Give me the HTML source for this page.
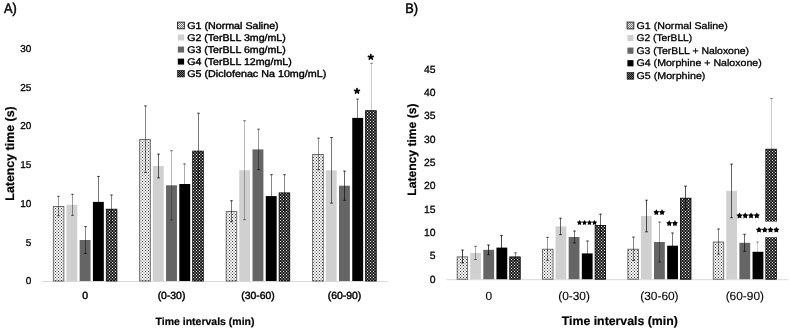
<!DOCTYPE html>
<html><head><meta charset="utf-8"><style>
html,body{margin:0;padding:0;background:#fff;}
svg{display:block;will-change:transform;}
text{font-family:"Liberation Sans", sans-serif;fill:#000;text-rendering:geometricPrecision;}
</style></head><body>
<svg width="789" height="329" viewBox="0 0 789 329">
<defs>
<pattern id="pg1" patternUnits="userSpaceOnUse" width="3" height="3"><rect x="0" y="0" width="1" height="1" fill="#cdcdcd"/><rect x="1" y="0" width="1" height="1" fill="#fafafa"/><rect x="2" y="0" width="1" height="1" fill="#cdcdcd"/><rect x="0" y="1" width="1" height="1" fill="#fafafa"/><rect x="1" y="1" width="1" height="1" fill="#3c3c3c"/><rect x="2" y="1" width="1" height="1" fill="#fafafa"/><rect x="0" y="2" width="1" height="1" fill="#cdcdcd"/><rect x="1" y="2" width="1" height="1" fill="#fafafa"/><rect x="2" y="2" width="1" height="1" fill="#cdcdcd"/></pattern>
<pattern id="pg5" patternUnits="userSpaceOnUse" width="3" height="3"><rect x="0" y="0" width="1" height="1" fill="#555555"/><rect x="1" y="0" width="1" height="1" fill="#191919"/><rect x="2" y="0" width="1" height="1" fill="#555555"/><rect x="0" y="1" width="1" height="1" fill="#191919"/><rect x="1" y="1" width="1" height="1" fill="#ebebeb"/><rect x="2" y="1" width="1" height="1" fill="#191919"/><rect x="0" y="2" width="1" height="1" fill="#555555"/><rect x="1" y="2" width="1" height="1" fill="#191919"/><rect x="2" y="2" width="1" height="1" fill="#555555"/></pattern>
<pattern id="pg1s" patternUnits="userSpaceOnUse" width="2" height="2"><rect x="0" y="0" width="1" height="1" fill="#e6e6e6"/><rect x="1" y="0" width="1" height="1" fill="#787878"/><rect x="0" y="1" width="1" height="1" fill="#787878"/><rect x="1" y="1" width="1" height="1" fill="#e6e6e6"/></pattern>
<pattern id="pg5s" patternUnits="userSpaceOnUse" width="2" height="2"><rect x="0" y="0" width="1" height="1" fill="#0f0f0f"/><rect x="1" y="0" width="1" height="1" fill="#6e6e6e"/><rect x="0" y="1" width="1" height="1" fill="#6e6e6e"/><rect x="1" y="1" width="1" height="1" fill="#0f0f0f"/></pattern>
</defs>
<rect width="789" height="329" fill="#fff"/>
<rect x="42" y="281.0" width="346" height="1" fill="#d9d9d9"/>
<rect x="53.30" y="206.40" width="10.60" height="74.60" fill="url(#pg1)" stroke="#505050" stroke-width="0.8"/>
<rect x="66.40" y="204.80" width="10.90" height="76.20" fill="#d0d0d0"/>
<rect x="79.65" y="240.00" width="10.90" height="41.00" fill="#656565"/>
<rect x="92.90" y="201.90" width="10.90" height="79.10" fill="#000000"/>
<rect x="106.30" y="209.20" width="10.60" height="71.80" fill="url(#pg5)" stroke="#000" stroke-width="0.8"/>
<rect x="139.70" y="139.60" width="10.60" height="141.40" fill="url(#pg1)" stroke="#505050" stroke-width="0.8"/>
<rect x="152.80" y="166.00" width="10.90" height="115.00" fill="#d0d0d0"/>
<rect x="166.05" y="185.30" width="10.90" height="95.70" fill="#656565"/>
<rect x="179.30" y="184.00" width="10.90" height="97.00" fill="#000000"/>
<rect x="192.70" y="151.10" width="10.60" height="129.90" fill="url(#pg5)" stroke="#000" stroke-width="0.8"/>
<rect x="226.15" y="211.60" width="10.60" height="69.40" fill="url(#pg1)" stroke="#505050" stroke-width="0.8"/>
<rect x="239.25" y="170.20" width="10.90" height="110.80" fill="#d0d0d0"/>
<rect x="252.50" y="149.40" width="10.90" height="131.60" fill="#656565"/>
<rect x="265.75" y="196.10" width="10.90" height="84.90" fill="#000000"/>
<rect x="279.15" y="192.90" width="10.60" height="88.10" fill="url(#pg5)" stroke="#000" stroke-width="0.8"/>
<rect x="312.65" y="154.40" width="10.60" height="126.60" fill="url(#pg1)" stroke="#505050" stroke-width="0.8"/>
<rect x="325.75" y="170.30" width="10.90" height="110.70" fill="#d0d0d0"/>
<rect x="339.00" y="185.70" width="10.90" height="95.30" fill="#656565"/>
<rect x="352.25" y="117.90" width="10.90" height="163.10" fill="#000000"/>
<rect x="365.65" y="110.70" width="10.60" height="170.30" fill="url(#pg5)" stroke="#000" stroke-width="0.8"/>
<line x1="58.50" y1="196.30" x2="58.50" y2="215.70" stroke="#000" stroke-opacity="0.4" stroke-width="1"/>
<rect x="57.25" y="195.80" width="2.5" height="1" fill="#000" fill-opacity="0.70"/>
<rect x="57.25" y="215.20" width="2.5" height="1" fill="#000" fill-opacity="0.70"/>
<line x1="72.50" y1="194.30" x2="72.50" y2="215.30" stroke="#000" stroke-opacity="0.4" stroke-width="1"/>
<rect x="71.25" y="193.80" width="2.5" height="1" fill="#000" fill-opacity="0.70"/>
<rect x="71.25" y="214.80" width="2.5" height="1" fill="#000" fill-opacity="0.70"/>
<line x1="85.50" y1="226.60" x2="85.50" y2="253.40" stroke="#000" stroke-opacity="0.47" stroke-width="1"/>
<rect x="84.25" y="226.10" width="2.5" height="1" fill="#000" fill-opacity="0.77"/>
<rect x="84.25" y="252.90" width="2.5" height="1" fill="#000" fill-opacity="0.77"/>
<line x1="98.50" y1="176.40" x2="98.50" y2="227.40" stroke="#000" stroke-opacity="0.53" stroke-width="1"/>
<rect x="97.25" y="175.90" width="2.5" height="1" fill="#000" fill-opacity="0.80"/>
<rect x="97.25" y="226.90" width="2.5" height="1" fill="#000" fill-opacity="0.80"/>
<line x1="111.50" y1="195.00" x2="111.50" y2="222.60" stroke="#000" stroke-opacity="0.47" stroke-width="1"/>
<rect x="110.25" y="194.50" width="2.5" height="1" fill="#000" fill-opacity="0.77"/>
<rect x="110.25" y="222.10" width="2.5" height="1" fill="#000" fill-opacity="0.77"/>
<line x1="145.50" y1="105.90" x2="145.50" y2="172.50" stroke="#000" stroke-opacity="0.47" stroke-width="1"/>
<rect x="144.25" y="105.40" width="2.5" height="1" fill="#000" fill-opacity="0.77"/>
<rect x="144.25" y="172.00" width="2.5" height="1" fill="#000" fill-opacity="0.77"/>
<line x1="158.50" y1="154.10" x2="158.50" y2="177.90" stroke="#000" stroke-opacity="0.6" stroke-width="1"/>
<rect x="157.25" y="153.60" width="2.5" height="1" fill="#000" fill-opacity="0.80"/>
<rect x="157.25" y="177.40" width="2.5" height="1" fill="#000" fill-opacity="0.80"/>
<line x1="171.50" y1="150.70" x2="171.50" y2="219.90" stroke="#000" stroke-opacity="0.27" stroke-width="1"/>
<rect x="170.25" y="150.20" width="2.5" height="1" fill="#000" fill-opacity="0.57"/>
<rect x="170.25" y="219.40" width="2.5" height="1" fill="#000" fill-opacity="0.57"/>
<line x1="184.50" y1="163.90" x2="184.50" y2="204.10" stroke="#000" stroke-opacity="0.33" stroke-width="1"/>
<rect x="183.25" y="163.40" width="2.5" height="1" fill="#000" fill-opacity="0.63"/>
<rect x="183.25" y="203.60" width="2.5" height="1" fill="#000" fill-opacity="0.63"/>
<line x1="198.50" y1="113.20" x2="198.50" y2="188.20" stroke="#000" stroke-opacity="0.53" stroke-width="1"/>
<rect x="197.25" y="112.70" width="2.5" height="1" fill="#000" fill-opacity="0.80"/>
<rect x="197.25" y="187.70" width="2.5" height="1" fill="#000" fill-opacity="0.80"/>
<line x1="231.50" y1="200.70" x2="231.50" y2="221.70" stroke="#000" stroke-opacity="0.53" stroke-width="1"/>
<rect x="230.25" y="200.20" width="2.5" height="1" fill="#000" fill-opacity="0.80"/>
<rect x="230.25" y="221.20" width="2.5" height="1" fill="#000" fill-opacity="0.80"/>
<line x1="244.50" y1="120.70" x2="244.50" y2="219.70" stroke="#000" stroke-opacity="0.27" stroke-width="1"/>
<rect x="243.25" y="120.20" width="2.5" height="1" fill="#000" fill-opacity="0.57"/>
<rect x="243.25" y="219.20" width="2.5" height="1" fill="#000" fill-opacity="0.57"/>
<line x1="258.50" y1="129.20" x2="258.50" y2="169.60" stroke="#000" stroke-opacity="0.4" stroke-width="1"/>
<rect x="257.25" y="128.70" width="2.5" height="1" fill="#000" fill-opacity="0.70"/>
<rect x="257.25" y="169.10" width="2.5" height="1" fill="#000" fill-opacity="0.70"/>
<line x1="271.50" y1="174.70" x2="271.50" y2="217.50" stroke="#000" stroke-opacity="0.47" stroke-width="1"/>
<rect x="270.25" y="174.20" width="2.5" height="1" fill="#000" fill-opacity="0.77"/>
<rect x="270.25" y="217.00" width="2.5" height="1" fill="#000" fill-opacity="0.77"/>
<line x1="284.50" y1="174.70" x2="284.50" y2="210.30" stroke="#000" stroke-opacity="0.47" stroke-width="1"/>
<rect x="283.25" y="174.20" width="2.5" height="1" fill="#000" fill-opacity="0.77"/>
<rect x="283.25" y="209.80" width="2.5" height="1" fill="#000" fill-opacity="0.77"/>
<line x1="318.50" y1="138.20" x2="318.50" y2="169.80" stroke="#000" stroke-opacity="0.4" stroke-width="1"/>
<rect x="317.25" y="137.70" width="2.5" height="1" fill="#000" fill-opacity="0.70"/>
<rect x="317.25" y="169.30" width="2.5" height="1" fill="#000" fill-opacity="0.70"/>
<line x1="331.50" y1="137.50" x2="331.50" y2="203.10" stroke="#000" stroke-opacity="0.53" stroke-width="1"/>
<rect x="330.25" y="137.00" width="2.5" height="1" fill="#000" fill-opacity="0.80"/>
<rect x="330.25" y="202.60" width="2.5" height="1" fill="#000" fill-opacity="0.80"/>
<line x1="344.50" y1="171.10" x2="344.50" y2="200.30" stroke="#000" stroke-opacity="0.6" stroke-width="1"/>
<rect x="343.25" y="170.60" width="2.5" height="1" fill="#000" fill-opacity="0.80"/>
<rect x="343.25" y="199.80" width="2.5" height="1" fill="#000" fill-opacity="0.80"/>
<line x1="357.50" y1="99.10" x2="357.50" y2="136.70" stroke="#000" stroke-opacity="0.47" stroke-width="1"/>
<rect x="356.25" y="98.60" width="2.5" height="1" fill="#000" fill-opacity="0.77"/>
<rect x="356.25" y="136.20" width="2.5" height="1" fill="#000" fill-opacity="0.77"/>
<line x1="371.50" y1="63.30" x2="371.50" y2="157.30" stroke="#000" stroke-opacity="0.2" stroke-width="1"/>
<rect x="370.25" y="62.80" width="2.5" height="1" fill="#000" fill-opacity="0.50"/>
<rect x="370.25" y="156.80" width="2.5" height="1" fill="#000" fill-opacity="0.50"/>
<text x="31.4" y="284.20" font-size="10" text-anchor="end" stroke="#000" stroke-width="0.3">0</text>
<text x="31.4" y="245.50" font-size="10" text-anchor="end" stroke="#000" stroke-width="0.3">5</text>
<text x="31.4" y="206.80" font-size="10" text-anchor="end" stroke="#000" stroke-width="0.3">10</text>
<text x="31.4" y="168.10" font-size="10" text-anchor="end" stroke="#000" stroke-width="0.3">15</text>
<text x="31.4" y="129.40" font-size="10" text-anchor="end" stroke="#000" stroke-width="0.3">20</text>
<text x="31.4" y="90.70" font-size="10" text-anchor="end" stroke="#000" stroke-width="0.3">25</text>
<text x="31.4" y="52.00" font-size="10" text-anchor="end" stroke="#000" stroke-width="0.3">30</text>
<text x="85.10" y="299.3" font-size="10.4" text-anchor="middle" stroke="#000" stroke-width="0.45">0</text>
<text x="171.50" y="299.3" font-size="10.4" text-anchor="middle" stroke="#000" stroke-width="0.45">(0-30)</text>
<text x="257.95" y="299.3" font-size="10.4" text-anchor="middle" stroke="#000" stroke-width="0.45">(30-60)</text>
<text x="344.45" y="299.3" font-size="10.4" text-anchor="middle" stroke="#000" stroke-width="0.45">(60-90)</text>
<text x="205" y="324.8" font-size="10.5" font-weight="bold" text-anchor="middle" stroke="#000" stroke-width="0.2">Time intervals (min)</text>
<text transform="translate(14.4,153.5) rotate(-90)" x="0" y="0" font-size="12.4" font-weight="bold" text-anchor="middle" stroke="#000" stroke-width="0.2">Latency time (s)</text>
<text x="4" y="12.8" font-size="14" stroke="#000" stroke-width="0.5" textLength="12.8" lengthAdjust="spacingAndGlyphs">A)</text>
<rect x="177.50" y="22.15" width="6.90" height="6.60" fill="url(#pg1s)" stroke="#333" stroke-width="1"/>
<text x="187.2" y="28.70" font-size="9.8" stroke="#000" stroke-width="0.4" textLength="91.5" lengthAdjust="spacingAndGlyphs">G1 (Normal Saline)</text>
<rect x="177.80" y="34.50" width="6.30" height="6.00" fill="#d0d0d0"/>
<text x="187.2" y="40.75" font-size="9.8" stroke="#000" stroke-width="0.4" textLength="98.6" lengthAdjust="spacingAndGlyphs">G2 (TerBLL 3mg/mL)</text>
<rect x="177.80" y="46.55" width="6.30" height="6.00" fill="#656565"/>
<text x="187.2" y="52.80" font-size="9.8" stroke="#000" stroke-width="0.4" textLength="98.6" lengthAdjust="spacingAndGlyphs">G3 (TerBLL 6mg/mL)</text>
<rect x="177.80" y="58.60" width="6.30" height="6.00" fill="#000000"/>
<text x="187.2" y="64.85" font-size="9.8" stroke="#000" stroke-width="0.4" textLength="104.5" lengthAdjust="spacingAndGlyphs">G4 (TerBLL 12mg/mL)</text>
<rect x="177.50" y="70.35" width="6.90" height="6.60" fill="url(#pg5s)" stroke="#111" stroke-width="0.6"/>
<text x="187.2" y="76.90" font-size="9.8" stroke="#000" stroke-width="0.4" textLength="139.1" lengthAdjust="spacingAndGlyphs">G5 (Diclofenac Na 10mg/mL)</text>
<rect x="446" y="279.2" width="342" height="1" fill="#d9d9d9"/>
<rect x="457.15" y="256.90" width="10.50" height="22.30" fill="url(#pg1)" stroke="#505050" stroke-width="0.8"/>
<rect x="470.15" y="252.90" width="10.80" height="26.30" fill="#d0d0d0"/>
<rect x="483.30" y="249.80" width="10.80" height="29.40" fill="#656565"/>
<rect x="496.45" y="247.60" width="10.80" height="31.60" fill="#000000"/>
<rect x="509.75" y="256.90" width="10.50" height="22.30" fill="url(#pg5)" stroke="#000" stroke-width="0.8"/>
<rect x="542.52" y="249.20" width="10.50" height="30.00" fill="url(#pg1)" stroke="#505050" stroke-width="0.8"/>
<rect x="555.52" y="226.40" width="10.80" height="52.80" fill="#d0d0d0"/>
<rect x="568.67" y="237.00" width="10.80" height="42.20" fill="#656565"/>
<rect x="581.82" y="253.40" width="10.80" height="25.80" fill="#000000"/>
<rect x="595.12" y="225.50" width="10.50" height="53.70" fill="url(#pg5)" stroke="#000" stroke-width="0.8"/>
<rect x="627.88" y="249.20" width="10.50" height="30.00" fill="url(#pg1)" stroke="#505050" stroke-width="0.8"/>
<rect x="640.88" y="216.00" width="10.80" height="63.20" fill="#d0d0d0"/>
<rect x="654.03" y="242.00" width="10.80" height="37.20" fill="#656565"/>
<rect x="667.18" y="245.70" width="10.80" height="33.50" fill="#000000"/>
<rect x="680.48" y="198.20" width="10.50" height="81.00" fill="url(#pg5)" stroke="#000" stroke-width="0.8"/>
<rect x="713.25" y="242.00" width="10.50" height="37.20" fill="url(#pg1)" stroke="#505050" stroke-width="0.8"/>
<rect x="726.25" y="190.90" width="10.80" height="88.30" fill="#d0d0d0"/>
<rect x="739.40" y="242.80" width="10.80" height="36.40" fill="#656565"/>
<rect x="752.55" y="251.80" width="10.80" height="27.40" fill="#000000"/>
<rect x="765.85" y="149.20" width="10.50" height="130.00" fill="url(#pg5)" stroke="#000" stroke-width="0.8"/>
<line x1="462.50" y1="250.10" x2="462.50" y2="262.90" stroke="#000" stroke-opacity="0.73" stroke-width="1"/>
<rect x="461.25" y="249.60" width="2.5" height="1" fill="#000" fill-opacity="0.80"/>
<rect x="461.25" y="262.40" width="2.5" height="1" fill="#000" fill-opacity="0.80"/>
<line x1="475.50" y1="246.30" x2="475.50" y2="259.50" stroke="#000" stroke-opacity="0.33" stroke-width="1"/>
<rect x="474.25" y="245.80" width="2.5" height="1" fill="#000" fill-opacity="0.63"/>
<rect x="474.25" y="259.00" width="2.5" height="1" fill="#000" fill-opacity="0.63"/>
<line x1="488.50" y1="245.00" x2="488.50" y2="254.60" stroke="#000" stroke-opacity="0.73" stroke-width="1"/>
<rect x="487.25" y="244.50" width="2.5" height="1" fill="#000" fill-opacity="0.80"/>
<rect x="487.25" y="254.10" width="2.5" height="1" fill="#000" fill-opacity="0.80"/>
<line x1="501.50" y1="235.40" x2="501.50" y2="259.80" stroke="#000" stroke-opacity="0.73" stroke-width="1"/>
<rect x="500.25" y="234.90" width="2.5" height="1" fill="#000" fill-opacity="0.80"/>
<rect x="500.25" y="259.30" width="2.5" height="1" fill="#000" fill-opacity="0.80"/>
<line x1="515.50" y1="252.90" x2="515.50" y2="260.10" stroke="#000" stroke-opacity="0.4" stroke-width="1"/>
<rect x="514.25" y="252.40" width="2.5" height="1" fill="#000" fill-opacity="0.70"/>
<rect x="514.25" y="259.60" width="2.5" height="1" fill="#000" fill-opacity="0.70"/>
<line x1="547.50" y1="237.40" x2="547.50" y2="260.20" stroke="#000" stroke-opacity="0.4" stroke-width="1"/>
<rect x="546.25" y="236.90" width="2.5" height="1" fill="#000" fill-opacity="0.70"/>
<rect x="546.25" y="259.70" width="2.5" height="1" fill="#000" fill-opacity="0.70"/>
<line x1="560.50" y1="218.20" x2="560.50" y2="234.60" stroke="#000" stroke-opacity="0.6" stroke-width="1"/>
<rect x="559.25" y="217.70" width="2.5" height="1" fill="#000" fill-opacity="0.80"/>
<rect x="559.25" y="234.10" width="2.5" height="1" fill="#000" fill-opacity="0.80"/>
<line x1="574.50" y1="231.00" x2="574.50" y2="243.00" stroke="#000" stroke-opacity="0.53" stroke-width="1"/>
<rect x="573.25" y="230.50" width="2.5" height="1" fill="#000" fill-opacity="0.80"/>
<rect x="573.25" y="242.50" width="2.5" height="1" fill="#000" fill-opacity="0.80"/>
<line x1="587.50" y1="241.00" x2="587.50" y2="265.80" stroke="#000" stroke-opacity="0.47" stroke-width="1"/>
<rect x="586.25" y="240.50" width="2.5" height="1" fill="#000" fill-opacity="0.77"/>
<rect x="586.25" y="265.30" width="2.5" height="1" fill="#000" fill-opacity="0.77"/>
<line x1="600.50" y1="214.20" x2="600.50" y2="236.00" stroke="#000" stroke-opacity="0.6" stroke-width="1"/>
<rect x="599.25" y="213.70" width="2.5" height="1" fill="#000" fill-opacity="0.80"/>
<rect x="599.25" y="235.50" width="2.5" height="1" fill="#000" fill-opacity="0.80"/>
<line x1="633.50" y1="237.10" x2="633.50" y2="260.50" stroke="#000" stroke-opacity="0.47" stroke-width="1"/>
<rect x="632.25" y="236.60" width="2.5" height="1" fill="#000" fill-opacity="0.77"/>
<rect x="632.25" y="260.00" width="2.5" height="1" fill="#000" fill-opacity="0.77"/>
<line x1="646.50" y1="200.20" x2="646.50" y2="231.80" stroke="#000" stroke-opacity="0.67" stroke-width="1"/>
<rect x="645.25" y="199.70" width="2.5" height="1" fill="#000" fill-opacity="0.80"/>
<rect x="645.25" y="231.30" width="2.5" height="1" fill="#000" fill-opacity="0.80"/>
<line x1="659.50" y1="222.10" x2="659.50" y2="261.90" stroke="#000" stroke-opacity="0.33" stroke-width="1"/>
<rect x="658.25" y="221.60" width="2.5" height="1" fill="#000" fill-opacity="0.63"/>
<rect x="658.25" y="261.40" width="2.5" height="1" fill="#000" fill-opacity="0.63"/>
<line x1="672.50" y1="233.00" x2="672.50" y2="258.40" stroke="#000" stroke-opacity="0.53" stroke-width="1"/>
<rect x="671.25" y="232.50" width="2.5" height="1" fill="#000" fill-opacity="0.80"/>
<rect x="671.25" y="257.90" width="2.5" height="1" fill="#000" fill-opacity="0.80"/>
<line x1="685.50" y1="186.10" x2="685.50" y2="209.50" stroke="#000" stroke-opacity="0.67" stroke-width="1"/>
<rect x="684.25" y="185.60" width="2.5" height="1" fill="#000" fill-opacity="0.80"/>
<rect x="684.25" y="209.00" width="2.5" height="1" fill="#000" fill-opacity="0.80"/>
<line x1="718.50" y1="229.00" x2="718.50" y2="254.20" stroke="#000" stroke-opacity="0.47" stroke-width="1"/>
<rect x="717.25" y="228.50" width="2.5" height="1" fill="#000" fill-opacity="0.77"/>
<rect x="717.25" y="253.70" width="2.5" height="1" fill="#000" fill-opacity="0.77"/>
<line x1="731.50" y1="164.10" x2="731.50" y2="217.70" stroke="#000" stroke-opacity="0.6" stroke-width="1"/>
<rect x="730.25" y="163.60" width="2.5" height="1" fill="#000" fill-opacity="0.80"/>
<rect x="730.25" y="217.20" width="2.5" height="1" fill="#000" fill-opacity="0.80"/>
<line x1="744.50" y1="234.30" x2="744.50" y2="251.30" stroke="#000" stroke-opacity="0.6" stroke-width="1"/>
<rect x="743.25" y="233.80" width="2.5" height="1" fill="#000" fill-opacity="0.80"/>
<rect x="743.25" y="250.80" width="2.5" height="1" fill="#000" fill-opacity="0.80"/>
<line x1="757.50" y1="242.10" x2="757.50" y2="261.50" stroke="#000" stroke-opacity="0.2" stroke-width="1"/>
<rect x="756.25" y="241.60" width="2.5" height="1" fill="#000" fill-opacity="0.50"/>
<rect x="756.25" y="261.00" width="2.5" height="1" fill="#000" fill-opacity="0.50"/>
<line x1="771.50" y1="98.50" x2="771.50" y2="199.10" stroke="#000" stroke-opacity="0.2" stroke-width="1"/>
<rect x="770.25" y="98.00" width="2.5" height="1" fill="#000" fill-opacity="0.50"/>
<rect x="770.25" y="198.60" width="2.5" height="1" fill="#000" fill-opacity="0.50"/>
<text x="435.6" y="282.60" font-size="10.4" text-anchor="end" stroke="#000" stroke-width="0.3">0</text>
<text x="435.6" y="259.28" font-size="10.4" text-anchor="end" stroke="#000" stroke-width="0.3">5</text>
<text x="435.6" y="235.96" font-size="10.4" text-anchor="end" stroke="#000" stroke-width="0.3">10</text>
<text x="435.6" y="212.64" font-size="10.4" text-anchor="end" stroke="#000" stroke-width="0.3">15</text>
<text x="435.6" y="189.32" font-size="10.4" text-anchor="end" stroke="#000" stroke-width="0.3">20</text>
<text x="435.6" y="166.00" font-size="10.4" text-anchor="end" stroke="#000" stroke-width="0.3">25</text>
<text x="435.6" y="142.68" font-size="10.4" text-anchor="end" stroke="#000" stroke-width="0.3">30</text>
<text x="435.6" y="119.36" font-size="10.4" text-anchor="end" stroke="#000" stroke-width="0.3">35</text>
<text x="435.6" y="96.04" font-size="10.4" text-anchor="end" stroke="#000" stroke-width="0.3">40</text>
<text x="435.6" y="72.72" font-size="10.4" text-anchor="end" stroke="#000" stroke-width="0.3">45</text>
<text x="488.70" y="300.0" font-size="11.9" text-anchor="middle" stroke="#000" stroke-width="0.12">0</text>
<text x="574.07" y="300.0" font-size="11.9" text-anchor="middle" stroke="#000" stroke-width="0.12">(0-30)</text>
<text x="659.43" y="300.0" font-size="11.9" text-anchor="middle" stroke="#000" stroke-width="0.12">(30-60)</text>
<text x="744.80" y="300.0" font-size="11.9" text-anchor="middle" stroke="#000" stroke-width="0.12">(60-90)</text>
<text x="619.8" y="324.6" font-size="12.3" font-weight="bold" text-anchor="middle" stroke="#000" stroke-width="0.2">Time intervals (min)</text>
<text transform="translate(415.7,149.6) rotate(-90)" x="0" y="0" font-size="12.1" font-weight="bold" text-anchor="middle" stroke="#000" stroke-width="0.2">Latency time (s)</text>
<text x="405.3" y="12.8" font-size="14" stroke="#000" stroke-width="0.5" textLength="12.8" lengthAdjust="spacingAndGlyphs">B)</text>
<rect x="627.10" y="22.10" width="6.70" height="6.80" fill="url(#pg1s)" stroke="#333" stroke-width="1"/>
<text x="636.5" y="28.50" font-size="9.7" stroke="#000" stroke-width="0.3" textLength="91.2" lengthAdjust="spacingAndGlyphs">G1 (Normal Saline)</text>
<rect x="627.40" y="34.98" width="6.10" height="6.20" fill="#d0d0d0"/>
<text x="636.5" y="41.08" font-size="9.7" stroke="#000" stroke-width="0.3" textLength="55.7" lengthAdjust="spacingAndGlyphs">G2 (TerBLL)</text>
<rect x="627.40" y="47.56" width="6.10" height="6.20" fill="#656565"/>
<text x="636.5" y="53.66" font-size="9.7" stroke="#000" stroke-width="0.3" textLength="112.5" lengthAdjust="spacingAndGlyphs">G3 (TerBLL + Naloxone)</text>
<rect x="627.40" y="60.14" width="6.10" height="6.20" fill="#000000"/>
<text x="636.5" y="66.24" font-size="9.7" stroke="#000" stroke-width="0.3" textLength="125.3" lengthAdjust="spacingAndGlyphs">G4 (Morphine + Naloxone)</text>
<rect x="627.10" y="72.42" width="6.70" height="6.80" fill="url(#pg5s)" stroke="#111" stroke-width="0.6"/>
<text x="636.5" y="78.82" font-size="9.7" stroke="#000" stroke-width="0.3" textLength="68.9" lengthAdjust="spacingAndGlyphs">G5 (Morphine)</text>
<path d="M357.00,91.10L357.00,88.60M357.00,91.10L359.38,90.33M357.00,91.10L358.47,93.12M357.00,91.10L355.53,93.12M357.00,91.10L354.62,90.33" stroke="#000" stroke-width="1.7" stroke-linecap="round" fill="none"/>
<path d="M370.80,57.10L370.80,54.60M370.80,57.10L373.18,56.33M370.80,57.10L372.27,59.12M370.80,57.10L369.33,59.12M370.80,57.10L368.42,56.33" stroke="#000" stroke-width="1.7" stroke-linecap="round" fill="none"/>
<polygon points="579.50,219.90 580.41,221.45 582.16,221.83 580.96,223.18 581.15,224.97 579.50,224.24 577.85,224.97 578.04,223.18 576.84,221.83 578.59,221.45" fill="#000"/>
<polygon points="584.50,219.90 585.41,221.45 587.16,221.83 585.96,223.18 586.15,224.97 584.50,224.24 582.85,224.97 583.04,223.18 581.84,221.83 583.59,221.45" fill="#000"/>
<polygon points="589.50,219.90 590.41,221.45 592.16,221.83 590.96,223.18 591.15,224.97 589.50,224.24 587.85,224.97 588.04,223.18 586.84,221.83 588.59,221.45" fill="#000"/>
<polygon points="594.50,219.90 595.41,221.45 597.16,221.83 595.96,223.18 596.15,224.97 594.50,224.24 592.85,224.97 593.04,223.18 591.84,221.83 593.59,221.45" fill="#000"/>
<polygon points="656.35,209.31 657.38,211.08 659.39,211.51 658.02,213.04 658.23,215.08 656.35,214.26 654.47,215.08 654.68,213.04 653.31,211.51 655.32,211.08" fill="#000"/>
<polygon points="662.05,209.31 663.08,211.08 665.09,211.51 663.72,213.04 663.93,215.08 662.05,214.26 660.17,215.08 660.38,213.04 659.01,211.51 661.02,211.08" fill="#000"/>
<polygon points="669.25,220.31 670.28,222.08 672.29,222.51 670.92,224.04 671.13,226.08 669.25,225.26 667.37,226.08 667.58,224.04 666.21,222.51 668.22,222.08" fill="#000"/>
<polygon points="674.95,220.31 675.98,222.08 677.99,222.51 676.62,224.04 676.83,226.08 674.95,225.26 673.07,226.08 673.28,224.04 671.91,222.51 673.92,222.08" fill="#000"/>
<polygon points="739.49,212.57 740.53,214.36 742.56,214.80 741.18,216.35 741.39,218.42 739.49,217.58 737.59,218.42 737.80,216.35 736.41,214.80 738.44,214.36" fill="#000"/>
<polygon points="745.26,212.57 746.31,214.36 748.34,214.80 746.95,216.35 747.16,218.42 745.26,217.58 743.36,218.42 743.57,216.35 742.19,214.80 744.22,214.36" fill="#000"/>
<polygon points="751.04,212.57 752.08,214.36 754.11,214.80 752.73,216.35 752.94,218.42 751.04,217.58 749.14,218.42 749.35,216.35 747.96,214.80 749.99,214.36" fill="#000"/>
<polygon points="756.81,212.57 757.86,214.36 759.89,214.80 758.50,216.35 758.71,218.42 756.81,217.58 754.91,218.42 755.12,216.35 753.74,214.80 755.77,214.36" fill="#000"/>
<rect x="755" y="221.6" width="25" height="15.6" fill="#fff"/>
<polygon points="758.99,226.77 760.03,228.56 762.06,229.00 760.68,230.55 760.89,232.62 758.99,231.78 757.09,232.62 757.30,230.55 755.91,229.00 757.94,228.56" fill="#000"/>
<polygon points="764.76,226.77 765.81,228.56 767.84,229.00 766.45,230.55 766.66,232.62 764.76,231.78 762.86,232.62 763.07,230.55 761.69,229.00 763.72,228.56" fill="#000"/>
<polygon points="770.54,226.77 771.58,228.56 773.61,229.00 772.23,230.55 772.44,232.62 770.54,231.78 768.64,232.62 768.85,230.55 767.46,229.00 769.49,228.56" fill="#000"/>
<polygon points="776.31,226.77 777.36,228.56 779.39,229.00 778.00,230.55 778.21,232.62 776.31,231.78 774.41,232.62 774.62,230.55 773.24,229.00 775.27,228.56" fill="#000"/>
</svg>
</body></html>
